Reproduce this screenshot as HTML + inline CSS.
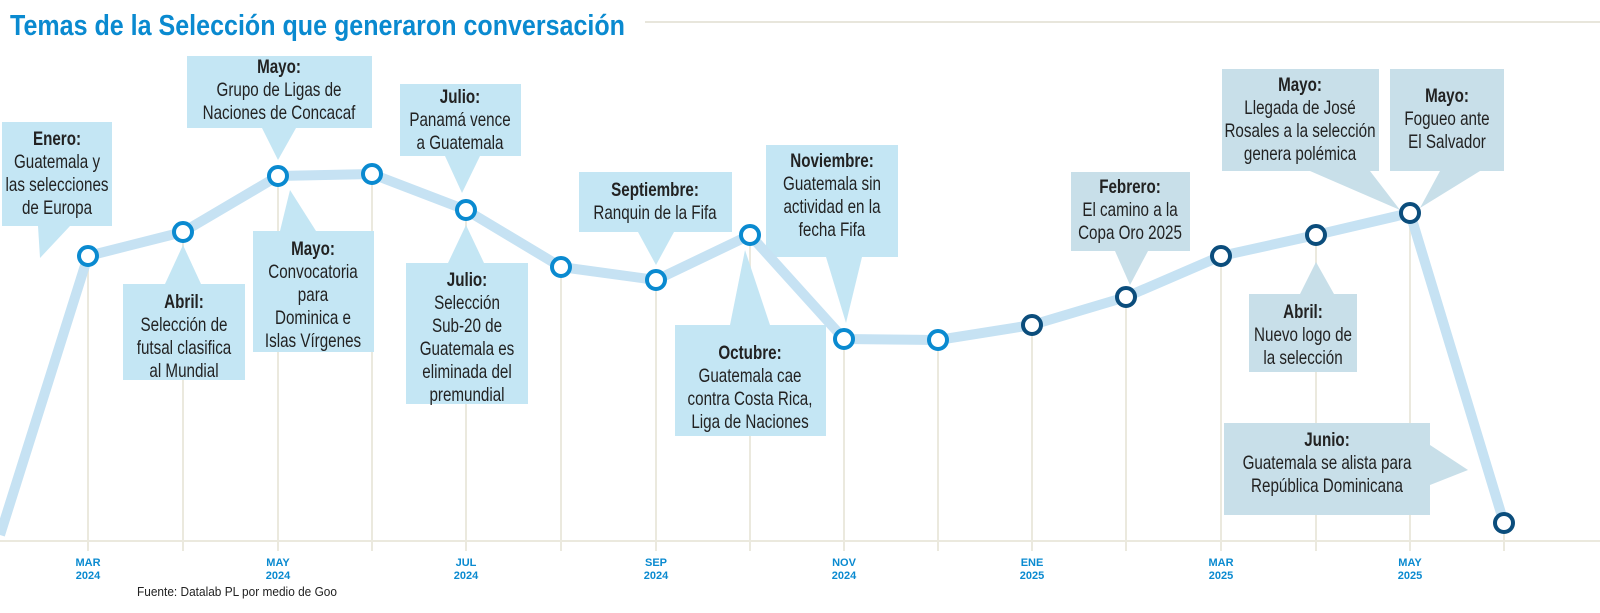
<!DOCTYPE html>
<html><head><meta charset="utf-8"><style>
html,body{margin:0;padding:0;background:#fff;}
svg{display:block;}
text{font-family:"Liberation Sans Narrow","Liberation Sans",sans-serif;}
</style></head><body>
<svg width="1600" height="613" viewBox="0 0 1600 613" xmlns="http://www.w3.org/2000/svg">
<text x="10" y="35" font-size="29" font-weight="bold" fill="#0a8ad0" textLength="615" lengthAdjust="spacingAndGlyphs">Temas de la Selección que generaron conversación</text>
<line x1="645" y1="22" x2="1600" y2="22" stroke="#e8e6dc" stroke-width="2"/>
<g stroke="#ebe9de" stroke-width="2">
<line x1="0" y1="541" x2="1600" y2="541"/>
<line x1="88" y1="256" x2="88" y2="551"/><line x1="183" y1="232" x2="183" y2="551"/>
<line x1="278" y1="176" x2="278" y2="551"/><line x1="372" y1="174" x2="372" y2="551"/>
<line x1="466" y1="210" x2="466" y2="551"/><line x1="561" y1="267" x2="561" y2="551"/>
<line x1="656" y1="280" x2="656" y2="551"/><line x1="750" y1="235" x2="750" y2="551"/>
<line x1="844" y1="339" x2="844" y2="551"/><line x1="938" y1="340" x2="938" y2="551"/>
<line x1="1032" y1="325" x2="1032" y2="551"/><line x1="1126" y1="297" x2="1126" y2="551"/>
<line x1="1221" y1="256" x2="1221" y2="551"/><line x1="1316" y1="235" x2="1316" y2="551"/>
<line x1="1410" y1="213" x2="1410" y2="551"/><line x1="1504" y1="523" x2="1504" y2="551"/>
</g>
<g fill="#c4e6f4">
<rect x="2" y="122" width="110" height="104"/><polygon points="38,226 70,226 40,258"/>
<rect x="123" y="284" width="122" height="96"/><polygon points="165,284 201,284 183,245"/>
<rect x="187" y="56" width="185" height="72"/><polygon points="262,128 296,128 278,160"/>
<rect x="253" y="231" width="121" height="121"/><polygon points="280,231 316,231 290,190"/>
<rect x="400" y="84" width="121" height="72"/><polygon points="445,156 480,156 462,193"/>
<rect x="406" y="263" width="122" height="141"/><polygon points="448,263 484,263 466,225"/>
<rect x="579" y="172" width="153" height="60"/><polygon points="638,232 674,232 656,265"/>
<rect x="766" y="145" width="132" height="112"/><polygon points="826,257 862,257 846,323"/>
<rect x="675" y="325" width="151" height="111"/><polygon points="730,325 770,325 745,250"/>
</g>
<g fill="#c8dfe9">
<rect x="1071" y="172" width="119" height="79"/><polygon points="1115,251 1148,251 1130,285"/>
<rect x="1222" y="69" width="157" height="102"/><polygon points="1310,171 1370,171 1400,210"/>
<rect x="1390" y="69" width="114" height="102"/><polygon points="1440,171 1480,171 1420,208"/>
<rect x="1249" y="294" width="108" height="78"/><polygon points="1300,294 1334,294 1316,262"/>
<rect x="1224" y="423" width="206" height="92"/><polygon points="1430,445 1430,485 1468,470"/>
</g>
<polyline fill="none" stroke="#c6e2f3" stroke-width="10" stroke-linejoin="round" points="0,535 88,256 183,232 278,176 372,174 466,210 561,267 656,280 750,235 844,339 938,340 1032,325 1126,297 1221,256 1316,235 1410,213 1504,523"/>
<g fill="#fff" stroke-width="4" stroke="#0a8ad0">
<circle cx="88" cy="256" r="9"/><circle cx="183" cy="232" r="9"/><circle cx="278" cy="176" r="9"/><circle cx="372" cy="174" r="9"/><circle cx="466" cy="210" r="9"/><circle cx="561" cy="267" r="9"/><circle cx="656" cy="280" r="9"/><circle cx="750" cy="235" r="9"/><circle cx="844" cy="339" r="9"/><circle cx="938" cy="340" r="9"/>
</g>
<g fill="#fff" stroke-width="4" stroke="#0b4d7c">
<circle cx="1032" cy="325" r="9"/><circle cx="1126" cy="297" r="9"/><circle cx="1221" cy="256" r="9"/><circle cx="1316" cy="235" r="9"/><circle cx="1410" cy="213" r="9"/><circle cx="1504" cy="523" r="9"/>
</g>
<g font-size="19" fill="#222" text-anchor="middle">
<g transform="translate(57,0) scale(0.8,1)"><text x="0" y="145"><tspan font-weight="bold">Enero:</tspan><tspan x="0" dy="23">Guatemala y</tspan><tspan x="0" dy="23">las selecciones</tspan><tspan x="0" dy="23">de Europa</tspan></text></g>
<g transform="translate(184,0) scale(0.8,1)"><text x="0" y="308"><tspan font-weight="bold">Abril:</tspan><tspan x="0" dy="23">Selección de</tspan><tspan x="0" dy="23">futsal clasifica</tspan><tspan x="0" dy="23">al Mundial</tspan></text></g>
<g transform="translate(279,0) scale(0.8,1)"><text x="0" y="73"><tspan font-weight="bold">Mayo:</tspan><tspan x="0" dy="23">Grupo de Ligas de</tspan><tspan x="0" dy="23">Naciones de Concacaf</tspan></text></g>
<g transform="translate(313,0) scale(0.8,1)"><text x="0" y="255"><tspan font-weight="bold">Mayo:</tspan><tspan x="0" dy="23">Convocatoria</tspan><tspan x="0" dy="23">para</tspan><tspan x="0" dy="23">Dominica e</tspan><tspan x="0" dy="23">Islas Vírgenes</tspan></text></g>
<g transform="translate(460,0) scale(0.8,1)"><text x="0" y="103"><tspan font-weight="bold">Julio:</tspan><tspan x="0" dy="23">Panamá vence</tspan><tspan x="0" dy="23">a Guatemala</tspan></text></g>
<g transform="translate(467,0) scale(0.8,1)"><text x="0" y="286"><tspan font-weight="bold">Julio:</tspan><tspan x="0" dy="23">Selección</tspan><tspan x="0" dy="23">Sub-20 de</tspan><tspan x="0" dy="23">Guatemala es</tspan><tspan x="0" dy="23">eliminada del</tspan><tspan x="0" dy="23">premundial</tspan></text></g>
<g transform="translate(655,0) scale(0.8,1)"><text x="0" y="196"><tspan font-weight="bold">Septiembre:</tspan><tspan x="0" dy="23">Ranquin de la Fifa</tspan></text></g>
<g transform="translate(832,0) scale(0.8,1)"><text x="0" y="167"><tspan font-weight="bold">Noviembre:</tspan><tspan x="0" dy="23">Guatemala sin</tspan><tspan x="0" dy="23">actividad en la</tspan><tspan x="0" dy="23">fecha Fifa</tspan></text></g>
<g transform="translate(750,0) scale(0.8,1)"><text x="0" y="359"><tspan font-weight="bold">Octubre:</tspan><tspan x="0" dy="23">Guatemala cae</tspan><tspan x="0" dy="23">contra Costa Rica,</tspan><tspan x="0" dy="23">Liga de Naciones</tspan></text></g>
<g transform="translate(1130,0) scale(0.8,1)"><text x="0" y="193"><tspan font-weight="bold">Febrero:</tspan><tspan x="0" dy="23">El camino a la</tspan><tspan x="0" dy="23">Copa Oro 2025</tspan></text></g>
<g transform="translate(1300,0) scale(0.8,1)"><text x="0" y="91"><tspan font-weight="bold">Mayo:</tspan><tspan x="0" dy="23">Llegada de José</tspan><tspan x="0" dy="23">Rosales a la selección</tspan><tspan x="0" dy="23">genera polémica</tspan></text></g>
<g transform="translate(1447,0) scale(0.8,1)"><text x="0" y="102"><tspan font-weight="bold">Mayo:</tspan><tspan x="0" dy="23">Fogueo ante</tspan><tspan x="0" dy="23">El Salvador</tspan></text></g>
<g transform="translate(1303,0) scale(0.8,1)"><text x="0" y="318"><tspan font-weight="bold">Abril:</tspan><tspan x="0" dy="23">Nuevo logo de</tspan><tspan x="0" dy="23">la selección</tspan></text></g>
<g transform="translate(1327,0) scale(0.8,1)"><text x="0" y="446"><tspan font-weight="bold">Junio:</tspan><tspan x="0" dy="23">Guatemala se alista para</tspan><tspan x="0" dy="23">República Dominicana</tspan></text></g>
</g>
<g font-size="11" font-weight="bold" fill="#0a8ad0" text-anchor="middle">
<text x="88" y="566">MAR<tspan x="88" dy="13">2024</tspan></text>
<text x="278" y="566">MAY<tspan x="278" dy="13">2024</tspan></text>
<text x="466" y="566">JUL<tspan x="466" dy="13">2024</tspan></text>
<text x="656" y="566">SEP<tspan x="656" dy="13">2024</tspan></text>
<text x="844" y="566">NOV<tspan x="844" dy="13">2024</tspan></text>
<text x="1032" y="566">ENE<tspan x="1032" dy="13">2025</tspan></text>
<text x="1221" y="566">MAR<tspan x="1221" dy="13">2025</tspan></text>
<text x="1410" y="566">MAY<tspan x="1410" dy="13">2025</tspan></text>
</g>
<text x="137" y="596" font-size="13" fill="#222" textLength="200" lengthAdjust="spacingAndGlyphs">Fuente:  Datalab PL por medio de Goo</text>
</svg>
</body></html>
